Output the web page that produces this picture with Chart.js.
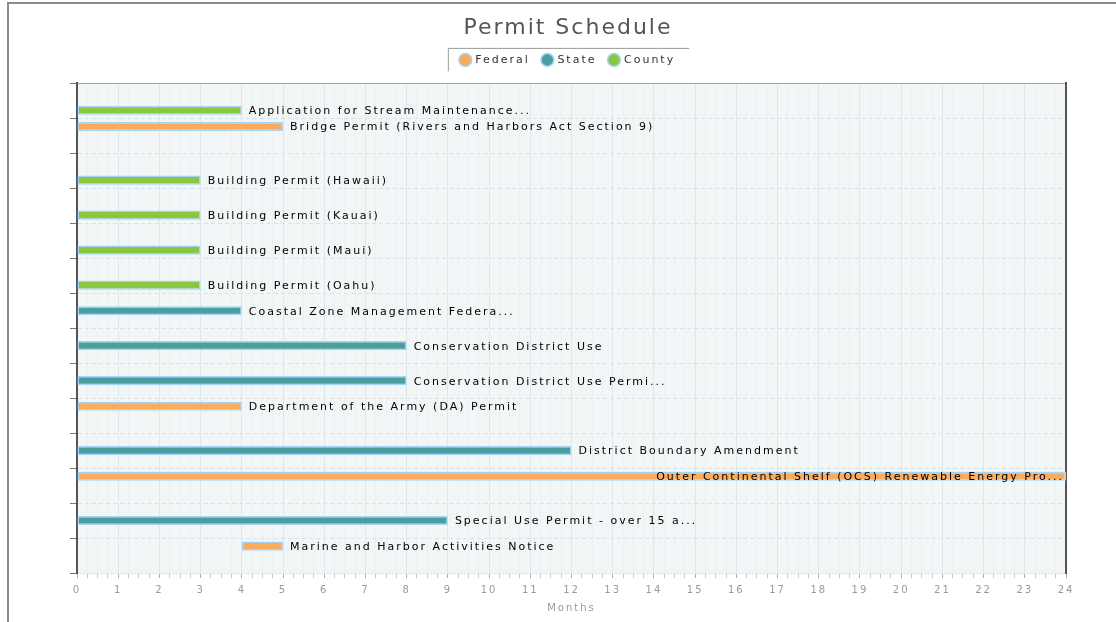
<!DOCTYPE html>
<html>
<head>
<meta charset="utf-8">
<title>Permit Schedule</title>
<script src="https://cdn.jsdelivr.net/npm/chart.js@4.4.1/dist/chart.umd.min.js"></script>
<style>
  html, body { margin: 0; padding: 0; background: #fff; overflow: hidden; }
  #frame { position: absolute; left: 7px; top: 2px; width: 1200px; height: 700px;
           border-top: 2px solid #8a8a8a; border-left: 2px solid #8a8a8a; }
  #wrap { position: absolute; left: 0; top: 0; width: 1116px; height: 622px; }
</style>
</head>
<body>
<div id="frame"></div>
<div id="wrap"><canvas id="permitChart"></canvas></div>
<script>
// One row per permit, top to bottom
const permits = [
  'Application for Stream Maintenance...',
  'Bridge Permit (Rivers and Harbors Act Section 9)',
  'Building Permit (Hawaii)',
  'Building Permit (Kauai)',
  'Building Permit (Maui)',
  'Building Permit (Oahu)',
  'Coastal Zone Management Federa...',
  'Conservation District Use',
  'Conservation District Use Permi...',
  'Department of the Army (DA) Permit',
  'District Boundary Amendment',
  'Outer Continental Shelf (OCS) Renewable Energy Pro...',
  'Special Use Permit - over 15 a...',
  'Marine and Harbor Activities Notice'
];

// Duration in months ([start, end] for bars that do not start at 0)
const federalMonths = [null, 5, null, null, null, null, null, null, null, 4, null, 24, null, [4, 5]];
const stateMonths   = [null, null, null, null, null, null, 4, 8, 8, null, 12, null, 9, null];
const countyMonths  = [4, null, 3, 3, 3, 3, null, null, null, null, null, null, null, null];

const monthMin = 0;
const monthMax = 24;

const seriesColors = { federal: '#fbab5b', state: '#4b9e9e', county: '#8cc63f' };
const FONT = '"DejaVu Sans", Verdana, sans-serif';

// The reference text is widely tracked, so space out every glyph
const spacingPlugin = {
  id: 'spacing',
  beforeInit(chart) { chart.ctx.letterSpacing = '2px'; },
  beforeUpdate(chart) { chart.ctx.letterSpacing = '2px'; },
  beforeDraw(chart) {
    const { ctx, chartArea } = chart;
    ctx.letterSpacing = '2px';
    ctx.save();
    ctx.fillStyle = '#f2f6f7';
    ctx.fillRect(chartArea.left, chartArea.top, chartArea.right - chartArea.left, chartArea.bottom - chartArea.top);
    ctx.restore();
  }
};

// Permit name written at the end of each bar
const barLabelPlugin = {
  id: 'barLabels',
  afterDatasetsDraw(chart) {
    const { ctx, chartArea } = chart;
    ctx.save();
    ctx.font = '11px ' + FONT;
    ctx.fillStyle = '#000';
    ctx.textBaseline = 'middle';
    chart.data.datasets.forEach((ds, i) => {
      const meta = chart.getDatasetMeta(i);
      meta.data.forEach((bar, j) => {
        if (ds.data[j] === null) return;
        const text = chart.data.labels[j];
        const w = ctx.measureText(text).width;
        const end = Math.max(bar.x, bar.base);
        if (end + 7 + w > chartArea.right) {
          ctx.textAlign = 'right';
          ctx.fillText(text, chartArea.right - 2, bar.y + 1);
        } else {
          ctx.textAlign = 'left';
          ctx.fillText(text, end + 7, bar.y + 1);
        }
      });
    });
    ctx.restore();
  }
};

// Thin frame on the top and left of the legend
const legendFramePlugin = {
  id: 'legendFrame',
  afterDraw(chart) {
    const boxes = chart.legend && chart.legend.legendHitBoxes;
    if (!boxes || !boxes.length) return;
    const left = Math.min(...boxes.map(b => b.left)) - 13;
    const right = Math.max(...boxes.map(b => b.left + b.width)) + 14;
    const top = boxes[0].top - 6.5;
    const bottom = boxes[0].top + boxes[0].height + 6;
    const ctx = chart.ctx;
    ctx.save();
    ctx.strokeStyle = '#9a9a9a';
    ctx.lineWidth = 1;
    ctx.beginPath();
    ctx.moveTo(left + 0.5, bottom);
    ctx.lineTo(left + 0.5, top + 0.5);
    ctx.lineTo(right, top + 0.5);
    ctx.stroke();
    ctx.restore();
  }
};

function makeDataset(label, data, color) {
  return {
    label: label,
    data: data,
    backgroundColor: color,
    borderColor: '#a4d3f4',
    borderWidth: 1.5,
    borderSkipped: false,
    categoryPercentage: 0.8,
    barPercentage: 0.98
  };
}

const isWhole = v => Math.abs(v - Math.round(v)) < 1e-6;

new Chart(document.getElementById('permitChart'), {
  type: 'bar',
  data: {
    labels: permits,
    datasets: [
      makeDataset('Federal', federalMonths, seriesColors.federal),
      makeDataset('State', stateMonths, seriesColors.state),
      makeDataset('County', countyMonths, seriesColors.county)
    ]
  },
  options: {
    indexAxis: 'y',
    responsive: true,
    maintainAspectRatio: false,
    animation: false,
    layout: { padding: { left: 70, right: 50, top: 0, bottom: 8 } },
    plugins: {
      title: {
        display: true,
        text: 'Permit Schedule',
        color: '#555',
        font: { family: FONT, size: 22, weight: 'normal' },
        padding: { top: 15, bottom: 0 }
      },
      legend: {
        display: true,
        labels: {
          color: '#333',
          font: { family: FONT, size: 11 },
          usePointStyle: true,
          pointStyle: 'circle',
          boxWidth: 9,
          boxHeight: 9,
          padding: 13
        }
      },
      tooltip: { enabled: false }
    },
    scales: {
      x: {
        type: 'linear',
        position: 'bottom',
        min: monthMin,
        max: monthMax,
        ticks: {
          stepSize: 0.25,
          autoSkip: false,
          maxRotation: 0,
          padding: 6,
          color: '#9a9a9a',
          font: { family: FONT, size: 10 },
          callback: v => isWhole(v) ? Math.round(v) : ''
        },
        grid: {
          color: c => (c.tick && isWhole(c.tick.value)) ? '#dde8ea' : '#ebf1f2',
          tickColor: c => (c.tick && isWhole(c.tick.value)) ? '#aaa' : '#c8c8c8',
          tickLength: 5
        },
        border: { color: '#e2eaec' },
        title: {
          display: true,
          text: 'Months',
          color: '#9a9a9a',
          font: { family: FONT, size: 10 },
          padding: { top: 0, bottom: 0 }
        }
      },
      xTop: {
        type: 'linear',
        position: 'top',
        min: monthMin,
        max: monthMax,
        ticks: { display: false },
        grid: { drawOnChartArea: false, drawTicks: true, tickLength: 8, tickColor: 'rgba(0,0,0,0)' },
        border: { color: '#a8a8a8', width: 1 }
      },
      y: {
        type: 'category',
        offset: true,
        ticks: { display: false },
        grid: {
          offset: true,
          color: '#d8e3e5',
          tickColor: '#777',
          tickLength: 7
        },
        border: { color: '#555', width: 2, dash: [4, 3] }
      },
      yRight: {
        type: 'linear',
        position: 'right',
        ticks: { display: false },
        grid: { drawOnChartArea: false, drawTicks: false },
        border: { color: '#555', width: 2 }
      }
    }
  },
  plugins: [spacingPlugin, barLabelPlugin, legendFramePlugin]
});
</script>
</body>
</html>
